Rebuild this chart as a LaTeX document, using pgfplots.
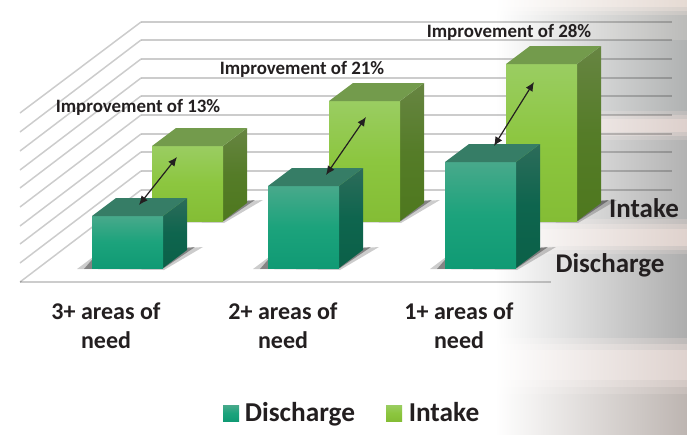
\documentclass[border=0pt]{standalone}
\usepackage{pgfplots}
\pgfplotsset{compat=1.18}
\usepackage{fontspec}
\usetikzlibrary{arrows.meta}
\setmainfont{Carlito}
\definecolor{txt}{HTML}{231F20}
\definecolor{dtop}{HTML}{367D66}
\definecolor{itop}{HTML}{739B4C}
\definecolor{da}{HTML}{109A74}\definecolor{db}{HTML}{1CA37C}\definecolor{dc}{HTML}{48A98B}
\definecolor{ia}{HTML}{84BD35}\definecolor{ib}{HTML}{8CC63F}\definecolor{ic}{HTML}{9ACD62}
\definecolor{sa}{HTML}{0B6048}\definecolor{sb}{HTML}{0E654E}\definecolor{sc}{HTML}{2D6C5A}
\definecolor{ta}{HTML}{4E781E}\definecolor{tb}{HTML}{557C28}\definecolor{tc}{HTML}{678542}
\definecolor{b1}{HTML}{E5DAD3}\definecolor{b2}{HTML}{BBBBB9}\definecolor{b3}{HTML}{B0B2B2}
\definecolor{b4}{HTML}{DDD0CC}\definecolor{b5}{HTML}{B2B2B2}\definecolor{b6}{HTML}{DFD2CD}
\definecolor{b7}{HTML}{ADADAD}\definecolor{b8}{HTML}{DED2CE}\definecolor{b9}{HTML}{BDB5B1}
\pgfdeclareverticalshading{dfront}{100bp}{color(0bp)=(da);color(25bp)=(da);color(50bp)=(db);color(75bp)=(dc);color(100bp)=(dc)}
\pgfdeclareverticalshading{ifront}{100bp}{color(0bp)=(ia);color(25bp)=(ia);color(50bp)=(ib);color(75bp)=(ic);color(100bp)=(ic)}
\pgfdeclareverticalshading{dside}{100bp}{color(0bp)=(sa);color(25bp)=(sa);color(50bp)=(sb);color(75bp)=(sc);color(100bp)=(sc)}
\pgfdeclareverticalshading{iside}{100bp}{color(0bp)=(ta);color(25bp)=(ta);color(50bp)=(tb);color(75bp)=(tc);color(100bp)=(tc)}
% #1 left x, #2 base y, #3 top y of the front face; #4 top colour; #5 front shading; #6 side shading
\newcommand{\cube}[6]{%
  \pgfmathsetmacro{\xr}{#1+71}\pgfmathsetmacro{\xa}{#1+24}\pgfmathsetmacro{\xb}{#1+95}%
  \pgfmathsetmacro{\ba}{#2-18}\pgfmathsetmacro{\ta}{#3-18}%
  \addplot[forget plot,draw=none,shading=#6] coordinates {(\xr,#2)(\xb,\ba)(\xb,\ta)(\xr,#3)} -- cycle;
  \addplot[forget plot,draw=none,shading=#5] coordinates {(#1,#2)(\xr,#2)(\xr,#3)(#1,#3)} -- cycle;
  \addplot[forget plot,draw=none,fill=#4] coordinates {(#1,#3)(\xr,#3)(\xb,\ta)(\xa,\ta)} -- cycle;
}
\newcommand{\shadow}[2]{%
  \pgfmathsetmacro{\sa}{#1-15}\pgfmathsetmacro{\sb}{#2+1}\pgfmathsetmacro{\sc}{#1+5}\pgfmathsetmacro{\sd}{#2-14}%
  \pgfmathsetmacro{\se}{#1+111}\pgfmathsetmacro{\sf}{#2-21}\pgfmathsetmacro{\sg}{#1+72}\pgfmathsetmacro{\sh}{#2+2}%
  \pgfmathsetmacro{\ia}{#1-8}\pgfmathsetmacro{\ie}{#1+103}\pgfmathsetmacro{\ig}{#2-1}\pgfmathsetmacro{\ih}{#1+95}%
  \addplot[forget plot,draw=none,fill=black,fill opacity=.2] coordinates {(\sa,\sb)(\sc,\sd)(\se,\sf)(\sg,\sh)} -- cycle;
  \addplot[forget plot,draw=none,fill=black,fill opacity=.35] coordinates {(\ia,\sb)(\sc,\sd)(\ie,\sf)(\sg,#2)} -- cycle;
  \addplot[forget plot,draw=none,fill=black,fill opacity=.45] coordinates {(#1,#2)(\sc,\sd)(\ih,\sf)(\sg,\ig)} -- cycle;
}
\newcommand{\bandrect}[3]{\addplot[forget plot,draw=none,left color=white,right color=#3] coordinates {(495,#1)(687,#1)(687,#2)(495,#2)} -- cycle;}
\newcommand{\gridback}[1]{\addplot[forget plot,black,opacity=.2,line width=1.5pt] coordinates {(141,#1)(672,#1)};}
\newcommand{\gridside}[2]{\addplot[forget plot,black,opacity=.2,line width=1.5pt] coordinates {(141,#1)(20,#2)};}
\newcommand{\lab}[4]{\node[text=txt,anchor=base,inner sep=0pt,font=\fontsize{#1}{#1}\selectfont\bfseries] at (#2,#3) {#4};}
\begin{document}
\begin{tikzpicture}
\begin{axis}[
  scale only axis, width=687pt, height=434pt,
  xmin=0, xmax=687, ymin=0, ymax=434, y dir=reverse,
  hide axis, clip=true, no markers,
  every axis plot/.append style={line join=round}]
% page
\addplot[forget plot,draw=none,fill=white] coordinates {(0,0)(687,0)(687,434)(0,434)} -- cycle;
% background
\bandrect{0}{7}{b1}
\bandrect{7}{11}{b1!70!b2}
\bandrect{11}{15}{b1!35!b2}
\bandrect{15}{40}{b2}
\bandrect{40}{111}{b3}
\bandrect{111}{115}{b3!70!b4}
\bandrect{115}{119}{b3!35!b4}
\bandrect{119}{132}{b4}
\bandrect{132}{136}{b4!65!b5}
\bandrect{136}{140}{b4!30!b5}
\bandrect{140}{219}{b5}
\bandrect{219}{224}{b5!65!b6}
\bandrect{224}{229}{b5!30!b6}
\bandrect{229}{246}{b6}
\bandrect{246}{250}{b6!65!b7}
\bandrect{250}{254}{b6!30!b7}
\bandrect{254}{338}{b7}
\bandrect{338}{344}{b7!65!b8}
\bandrect{344}{350}{b7!30!b8}
\bandrect{350}{380}{b8}
\bandrect{380}{387}{b8!65!b9}
\bandrect{387}{394}{b8!30!b9}
\bandrect{394}{434}{b9}
% walls
\gridback{22}\gridback{40}\gridback{59}\gridback{78}\gridback{96}
\gridback{115}\gridback{134}\gridback{152}\gridback{171}\gridback{190}
\gridside{22}{113}\gridside{40}{132}\gridside{59}{151}\gridside{78}{170}\gridside{96}{188}
\gridside{115}{207}\gridside{134}{226}\gridside{152}{244}\gridside{171}{263}\gridside{190}{282}
\addplot[forget plot,black,opacity=.2,line width=1.5pt] coordinates {(20,282)(551,282)};
% intake
\shadow{152}{221}
\cube{152}{221}{146}{itop}{ifront}{iside}
\shadow{329}{221}
\cube{329}{221}{101}{itop}{ifront}{iside}
\shadow{506}{221}
\cube{506}{221}{64}{itop}{ifront}{iside}
% discharge
\shadow{92}{268}
\cube{92}{268}{216}{dtop}{dfront}{dside}
\shadow{268}{268}
\cube{268}{268}{186}{dtop}{dfront}{dside}
\shadow{445}{268}
\cube{445}{268}{162}{dtop}{dfront}{dside}
% arrows
\addplot[forget plot,{Latex[length=9pt,width=8pt]}-{Latex[length=9pt,width=8pt]},line width=1.2pt,color=txt] coordinates {(139,205)(177,157)};
\addplot[forget plot,{Latex[length=9pt,width=8pt]}-{Latex[length=9pt,width=8pt]},line width=1.2pt,color=txt] coordinates {(326,175)(366,117)};
\addplot[forget plot,{Latex[length=9pt,width=8pt]}-{Latex[length=9pt,width=8pt]},line width=1.2pt,color=txt] coordinates {(494,146)(534,82)};
% legend swatches
\addplot[forget plot,draw=none,shading=dfront] coordinates {(223,405)(239,405)(239,421)(223,421)} -- cycle;
\addplot[forget plot,draw=none,shading=ifront] coordinates {(386,405)(402,405)(402,421)(386,421)} -- cycle;
% texts
\lab{18.9}{138}{112}{Improvement of 13\%}
\lab{18.9}{302}{74}{Improvement of 21\%}
\lab{18.9}{509}{37}{Improvement of 28\%}
\lab{27}{644}{217}{Intake}
\lab{27}{610}{272}{Discharge}
\lab{24}{106}{319}{3+ areas of}\lab{24}{106}{348}{need}
\lab{24}{283}{319}{2+ areas of}\lab{24}{283}{348}{need}
\lab{24}{459}{319}{1+ areas of}\lab{24}{459}{348}{need}
\lab{27.3}{300}{421}{Discharge}
\lab{27.3}{444}{421}{Intake}
\end{axis}
\end{tikzpicture}
\end{document}
